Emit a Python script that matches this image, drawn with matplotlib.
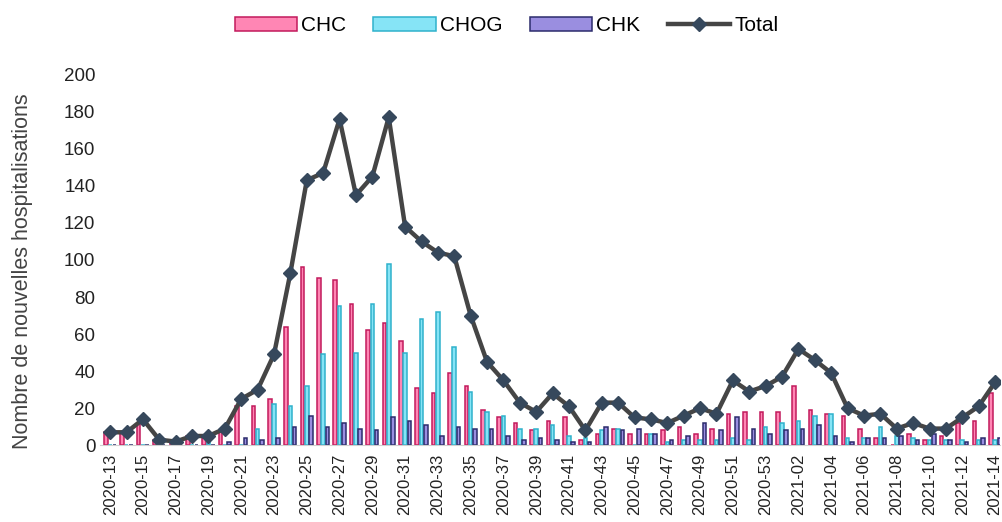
import numpy as np
import matplotlib.pyplot as plt

plt.rcParams['font.family'] = ['Liberation Sans', 'DejaVu Sans']

weeks = ['2020-%02d' % w for w in range(13, 54)] + ['2021-%02d' % w for w in range(1, 15)]

chc = [7, 7, 12, 3, 2, 5, 4, 8, 21, 21, 25, 64, 96, 90, 89, 76, 62, 66, 56, 31,
       28, 39, 32, 19, 15, 12, 8, 13, 15, 3, 6, 9, 6, 6, 8, 10, 6, 9, 17, 18,
       18, 18, 32, 19, 17, 16, 9, 4, 0, 6, 3, 5, 12, 13, 28]
chog = [0, 0, 0, 0, 0, 0, 4, 0, 0, 9, 22, 21, 32, 49, 75, 50, 76, 98, 50, 68,
        72, 53, 29, 18, 16, 9, 9, 11, 5, 4, 8, 9, 0, 6, 2, 3, 3, 3, 4, 3,
        10, 12, 13, 16, 17, 4, 4, 10, 5, 4, 3, 3, 3, 3, 3]
chk = [0, 0, 0, 0, 0, 0, 0, 2, 4, 3, 4, 10, 16, 10, 12, 9, 8, 15, 13, 11,
       5, 10, 9, 9, 5, 3, 4, 3, 2, 2, 10, 8, 9, 6, 3, 5, 12, 8, 15, 9,
       6, 8, 9, 11, 5, 2, 4, 4, 5, 3, 6, 3, 2, 4, 4]
total = [7, 7, 14, 3, 2, 5, 5, 9, 25, 30, 49, 93, 143, 147, 176, 135, 145, 177, 118, 110,
         104, 102, 70, 45, 35, 23, 18, 28, 21, 8, 23, 23, 15, 14, 12, 16, 20, 17, 35, 29,
         32, 37, 52, 46, 39, 20, 16, 17, 9, 12, 9, 9, 15, 21, 34]

x = np.arange(len(weeks))
w = 0.22

fig = plt.figure(figsize=(10.03, 5.22), dpi=100)
ax = fig.add_axes([0.1, 0.147, 0.897, 0.71])

b1 = ax.bar(x - 0.26, chc, w, color='#ff86b4', edgecolor='#c21a5c', linewidth=1.1, label='CHC')
b2 = ax.bar(x, chog, w, color='#86e4f6', edgecolor='#2fb2cc', linewidth=1.1, label='CHOG')
b3 = ax.bar(x + 0.26, chk, w, color='#9a8ee0', edgecolor='#2c2c6c', linewidth=1.1, label='CHK')
ln, = ax.plot(x, total, color='#454545', lw=3.2, marker='D', ms=7,
              mfc='#36485c', mec='#36485c', label='Total')

ax.set_ylim(0, 200)
ax.set_yticks(range(0, 201, 20))
ax.set_xlim(-0.6, len(weeks) - 0.7)
ax.set_xticks(x[::2])
ax.set_xticklabels(weeks[::2], rotation=90, fontsize=12, color='#222222')
ax.tick_params(axis='y', labelsize=13.5, length=0, labelcolor='#222222')
ax.tick_params(axis='x', length=0, pad=6)
ax.set_ylabel('Nombre de nouvelles hospitalisations', fontsize=15.5, labelpad=6,
              color='#444444')
ax.yaxis.set_label_coords(-0.075, 0.47)

for s in ['top', 'right', 'left']:
    ax.spines[s].set_visible(False)
ax.spines['bottom'].set_color('#d0d0d0')

fig.legend([b1, b2, b3, ln], ['CHC', 'CHOG', 'CHK', 'Total'],
           loc='upper center', bbox_to_anchor=(0.505, 1.005), ncol=4, frameon=False,
           fontsize=15, handlelength=3.0, handletextpad=0.2, columnspacing=1.3)

fig.savefig('out.png', dpi=100)
